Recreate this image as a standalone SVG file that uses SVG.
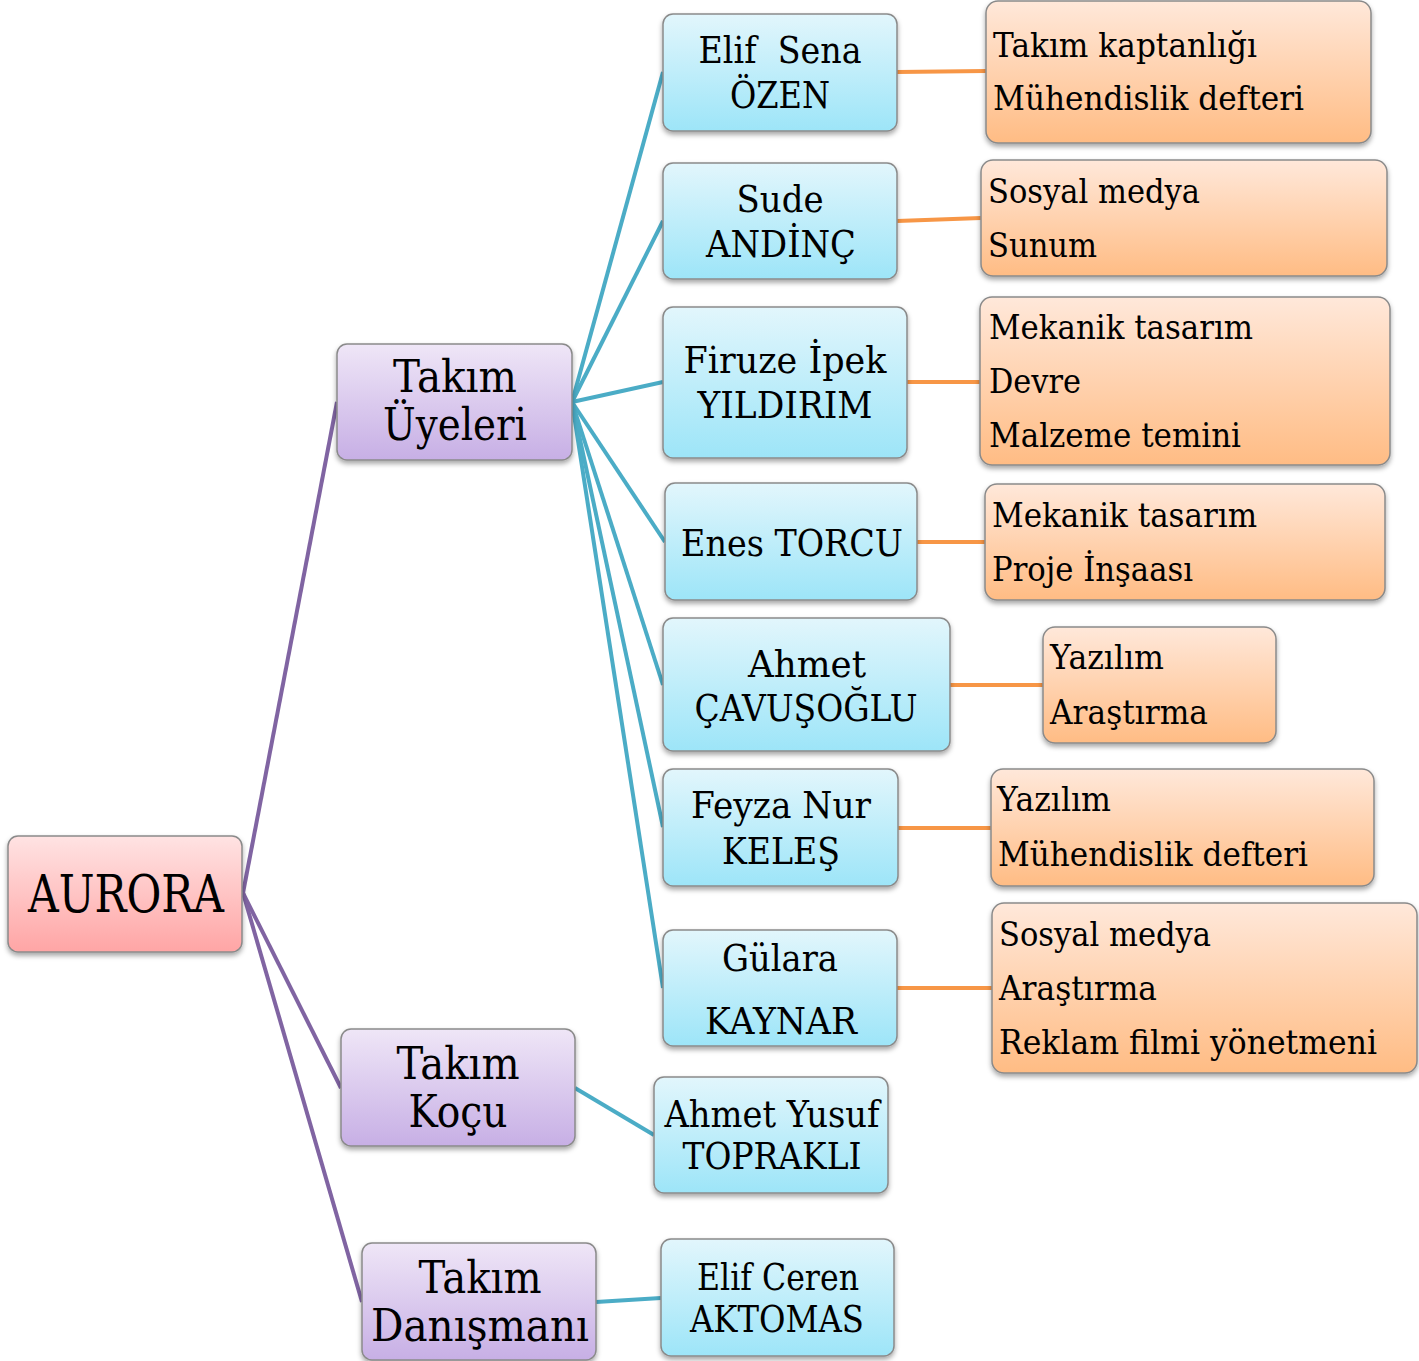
<svg xmlns="http://www.w3.org/2000/svg" width="1419" height="1361" viewBox="0 0 1419 1361">
<defs>
<linearGradient id="gPink" x1="0" y1="0" x2="0" y2="1"><stop offset="0" stop-color="#FFE3E3"/><stop offset="1" stop-color="#FFA5A5"/></linearGradient>
<linearGradient id="gPurple" x1="0" y1="0" x2="0" y2="1"><stop offset="0" stop-color="#EFE6F7"/><stop offset="1" stop-color="#C7AFE5"/></linearGradient>
<linearGradient id="gBlue" x1="0" y1="0" x2="0" y2="1"><stop offset="0" stop-color="#E2F6FC"/><stop offset="1" stop-color="#9DE5F8"/></linearGradient>
<linearGradient id="gOrange" x1="0" y1="0" x2="0" y2="1"><stop offset="0" stop-color="#FFE8DA"/><stop offset="1" stop-color="#FFBC84"/></linearGradient>
<filter id="sh" x="-10%" y="-10%" width="120%" height="130%"><feDropShadow dx="0" dy="3" stdDeviation="2.5" flood-color="#000" flood-opacity="0.35"/></filter>
</defs>
<style>
.box{stroke:#8a8a8a;stroke-width:1.5;filter:url(#sh)}
.pink{fill:url(#gPink)}
.purple{fill:url(#gPurple)}
.blue{fill:url(#gBlue)}
.orange{fill:url(#gOrange)}
text{font-family:"DejaVu Serif","Liberation Serif",serif;fill:#000;white-space:pre}
.t0{font-size:52px;text-anchor:middle}
.t1{font-size:44px;text-anchor:middle}
.t2{font-size:38px;text-anchor:middle}
.t3{font-size:33px}
.cp{stroke:#8064A2;stroke-width:4;fill:none}
.cb{stroke:#4BACC6;stroke-width:4;fill:none}
.co{stroke:#F79646;stroke-width:4;fill:none}
</style>
<g id="connectors">
<line class="cp" x1="243" y1="893" x2="337" y2="402"/>
<line class="cp" x1="243" y1="893" x2="341" y2="1088"/>
<line class="cp" x1="243" y1="893" x2="362" y2="1302"/>
<line class="cb" x1="572" y1="402" x2="663" y2="72"/>
<line class="cb" x1="572" y1="402" x2="663" y2="221"/>
<line class="cb" x1="572" y1="402" x2="663" y2="382"/>
<line class="cb" x1="572" y1="402" x2="665" y2="542"/>
<line class="cb" x1="572" y1="402" x2="663" y2="685"/>
<line class="cb" x1="572" y1="402" x2="663" y2="827"/>
<line class="cb" x1="572" y1="402" x2="663" y2="988"/>
<line class="cb" x1="575" y1="1088" x2="654" y2="1135"/>
<line class="cb" x1="596" y1="1302" x2="661" y2="1298"/>
<line class="co" x1="897" y1="72" x2="986" y2="71"/>
<line class="co" x1="897" y1="221" x2="981" y2="218"/>
<line class="co" x1="907" y1="382" x2="980" y2="382"/>
<line class="co" x1="917" y1="542" x2="985" y2="542"/>
<line class="co" x1="950" y1="685" x2="1043" y2="685"/>
<line class="co" x1="898" y1="828" x2="991" y2="828"/>
<line class="co" x1="897" y1="988" x2="992" y2="988"/>
</g>
<g id="n-aurora"><rect class="box pink" x="8" y="836" width="234" height="116" rx="10"/><text class="t0" x="126" y="912" textLength="196" lengthAdjust="spacingAndGlyphs">AURORA</text></g>
<g id="n-uyeler"><rect class="box purple" x="337" y="344" width="235" height="116" rx="10"/><text class="t1" x="455" y="392" textLength="124" lengthAdjust="spacingAndGlyphs">Takım</text><text class="t1" x="455" y="440" textLength="144" lengthAdjust="spacingAndGlyphs">Üyeleri</text></g>
<g id="n-koc"><rect class="box purple" x="341" y="1029" width="234" height="117" rx="10"/><text class="t1" x="458" y="1079" textLength="123" lengthAdjust="spacingAndGlyphs">Takım</text><text class="t1" x="458" y="1127" textLength="99" lengthAdjust="spacingAndGlyphs">Koçu</text></g>
<g id="n-danisman"><rect class="box purple" x="362" y="1243" width="234" height="117" rx="10"/><text class="t1" x="480" y="1293" textLength="123" lengthAdjust="spacingAndGlyphs">Takım</text><text class="t1" x="480" y="1341" textLength="218" lengthAdjust="spacingAndGlyphs">Danışmanı</text></g>
<g id="n-elifsena"><rect class="box blue" x="663" y="14" width="234" height="117" rx="10"/><text class="t2" x="780" y="63" textLength="163" lengthAdjust="spacingAndGlyphs">Elif  Sena</text><text class="t2" x="780" y="108" textLength="100" lengthAdjust="spacingAndGlyphs">ÖZEN</text></g>
<g id="n-sude"><rect class="box blue" x="663" y="163" width="234" height="116" rx="10"/><text class="t2" x="780" y="212" textLength="87" lengthAdjust="spacingAndGlyphs">Sude</text><text class="t2" x="781" y="257" textLength="150" lengthAdjust="spacingAndGlyphs">ANDİNÇ</text></g>
<g id="n-firuze"><rect class="box blue" x="663" y="307" width="244" height="151" rx="10"/><text class="t2" x="785" y="373" textLength="203" lengthAdjust="spacingAndGlyphs">Firuze İpek</text><text class="t2" x="785" y="418" textLength="175" lengthAdjust="spacingAndGlyphs">YILDIRIM</text></g>
<g id="n-enes"><rect class="box blue" x="665" y="483" width="252" height="117" rx="10"/><text class="t2" x="792" y="556" textLength="222" lengthAdjust="spacingAndGlyphs">Enes TORCU</text></g>
<g id="n-ahmet"><rect class="box blue" x="663" y="618" width="287" height="133" rx="10"/><text class="t2" x="807" y="677" textLength="118" lengthAdjust="spacingAndGlyphs">Ahmet</text><text class="t2" x="806" y="721" textLength="223" lengthAdjust="spacingAndGlyphs">ÇAVUŞOĞLU</text></g>
<g id="n-feyza"><rect class="box blue" x="663" y="769" width="235" height="117" rx="10"/><text class="t2" x="781" y="818" textLength="180" lengthAdjust="spacingAndGlyphs">Feyza Nur</text><text class="t2" x="781" y="864" textLength="118" lengthAdjust="spacingAndGlyphs">KELEŞ</text></g>
<g id="n-gulara"><rect class="box blue" x="663" y="930" width="234" height="116" rx="10"/><text class="t2" x="780" y="971" textLength="116" lengthAdjust="spacingAndGlyphs">Gülara</text><text class="t2" x="781" y="1034" textLength="152" lengthAdjust="spacingAndGlyphs">KAYNAR</text></g>
<g id="n-ahmetyusuf"><rect class="box blue" x="654" y="1077" width="234" height="116" rx="10"/><text class="t2" x="772" y="1127" textLength="215" lengthAdjust="spacingAndGlyphs">Ahmet Yusuf</text><text class="t2" x="772" y="1169" textLength="179" lengthAdjust="spacingAndGlyphs">TOPRAKLI</text></g>
<g id="n-elifceren"><rect class="box blue" x="661" y="1239" width="233" height="117" rx="10"/><text class="t2" x="778" y="1290" textLength="162" lengthAdjust="spacingAndGlyphs">Elif Ceren</text><text class="t2" x="777" y="1332" textLength="174" lengthAdjust="spacingAndGlyphs">AKTOMAS</text></g>
<g id="r-elifsena"><rect class="box orange" x="986" y="1" width="385" height="142" rx="12"/><text class="t3" x="993" y="57" textLength="264" lengthAdjust="spacingAndGlyphs">Takım kaptanlığı</text><text class="t3" x="993" y="110" textLength="311" lengthAdjust="spacingAndGlyphs">Mühendislik defteri</text></g>
<g id="r-sude"><rect class="box orange" x="981" y="160" width="406" height="116" rx="12"/><text class="t3" x="988" y="203" textLength="212" lengthAdjust="spacingAndGlyphs">Sosyal medya</text><text class="t3" x="988" y="257" textLength="109" lengthAdjust="spacingAndGlyphs">Sunum</text></g>
<g id="r-firuze"><rect class="box orange" x="980" y="297" width="410" height="168" rx="12"/><text class="t3" x="989" y="339" textLength="264" lengthAdjust="spacingAndGlyphs">Mekanik tasarım</text><text class="t3" x="989" y="393" textLength="92" lengthAdjust="spacingAndGlyphs">Devre</text><text class="t3" x="989" y="447" textLength="252" lengthAdjust="spacingAndGlyphs">Malzeme temini</text></g>
<g id="r-enes"><rect class="box orange" x="985" y="484" width="400" height="116" rx="12"/><text class="t3" x="992" y="527" textLength="265" lengthAdjust="spacingAndGlyphs">Mekanik tasarım</text><text class="t3" x="992" y="581" textLength="201" lengthAdjust="spacingAndGlyphs">Proje İnşaası</text></g>
<g id="r-ahmet"><rect class="box orange" x="1043" y="627" width="233" height="116" rx="12"/><text class="t3" x="1050" y="669" textLength="114" lengthAdjust="spacingAndGlyphs">Yazılım</text><text class="t3" x="1050" y="724" textLength="158" lengthAdjust="spacingAndGlyphs">Araştırma</text></g>
<g id="r-feyza"><rect class="box orange" x="991" y="769" width="383" height="117" rx="12"/><text class="t3" x="997" y="811" textLength="114" lengthAdjust="spacingAndGlyphs">Yazılım</text><text class="t3" x="998" y="866" textLength="310" lengthAdjust="spacingAndGlyphs">Mühendislik defteri</text></g>
<g id="r-gulara"><rect class="box orange" x="992" y="903" width="425" height="170" rx="12"/><text class="t3" x="999" y="946" textLength="212" lengthAdjust="spacingAndGlyphs">Sosyal medya</text><text class="t3" x="999" y="1000" textLength="158" lengthAdjust="spacingAndGlyphs">Araştırma</text><text class="t3" x="999" y="1054" textLength="378" lengthAdjust="spacingAndGlyphs">Reklam filmi yönetmeni</text></g>
</svg>
